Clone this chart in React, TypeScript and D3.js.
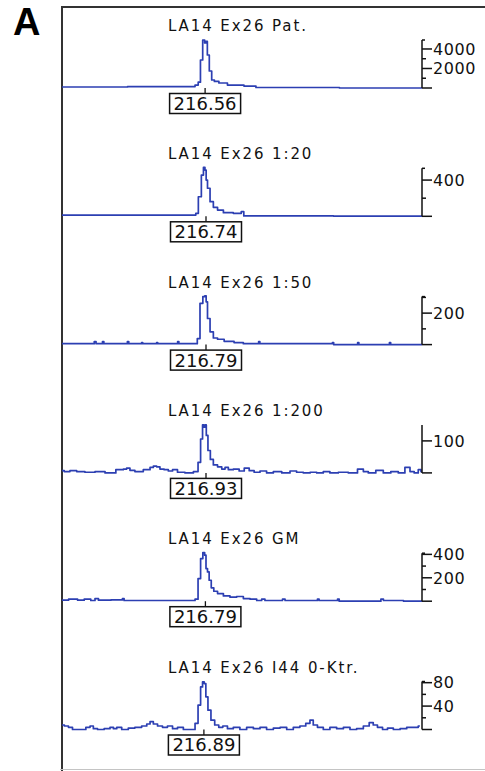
import React from 'react';
import * as d3 from 'd3';

// sample titles, peak size calls and right-axis settings, top to bottom
const titles = ['LA14 Ex26 Pat.', 'LA14 Ex26 1:20', 'LA14 Ex26 1:50', 'LA14 Ex26 1:200', 'LA14 Ex26 GM', 'LA14 Ex26 I44 0-Ktr.'];
const peakSizes = ['216.56', '216.74', '216.79', '216.93', '216.79', '216.89'];
const peakScan = [47.7, 48, 48, 48, 47.8, 47.3];
const yMaxes = [4920, 530, 305, 150, 410, 82];
const majorTicks = [[2000, 4000], [400], [200], [100], [200, 400], [40, 80]];
const minorTicks = [[1000, 3000], [200], [100, 300], [], [100, 300], [20, 60]];
const topCaps = [true, true, true, false, true, true];

// traces as [scan, signal] points
const trace1 = [[0, 100], [43.7, 150], [45, 300], [45.8, 600], [46.5, 2870], [47.3, 4920], [47.8, 4610], [48.2, 4770], [48.7, 3380], [49.5, 1740], [50.3, 820], [51.3, 670], [53.3, 510], [57, 300], [64.3, 200], [65, 50], [120, 0]];
const trace2 = [[0, 14], [44.3, 14], [44.9, 33], [46, 216], [46.9, 455], [47.4, 540], [47.9, 510], [48.2, 400], [48.8, 310], [49.9, 161], [51, 99], [52.7, 69], [54.9, 40], [59.3, 33], [60.2, 51], [61, 4], [120, 3]];
const trace3 = [[0, 6], [10.5, 6], [11, 19], [11.7, 6], [13.3, 6], [13.7, 19], [14.2, 6], [21.6, 6], [22, 19], [22.5, 6], [26.4, 6], [26.7, 13], [27.1, 6], [31.4, 6], [31.7, 13], [32.1, 6], [38.4, 6], [38.7, 19], [39.2, 6], [44.8, 6], [45.4, 38], [46.6, 262], [47.3, 305], [47.9, 310], [48.2, 272], [48.8, 166], [49.9, 81], [51, 42], [52.7, 34], [55.4, 21], [59.3, 13], [61.6, 6], [65.4, 6], [65.7, 19], [66.2, 6], [90, 6], [90.3, 13], [90.8, 0], [98.4, 0], [98.7, 13], [99.2, 0], [109, 0], [109.3, 13], [109.8, 0], [120, 0]];
const trace4 = [[0, 7], [1.5, 4], [3.8, 7], [6, 4], [9.3, 2], [12.7, 4], [16, 0], [19.9, 10], [21, 12], [22.1, 15], [23.2, 8], [25.4, 4], [28.8, 10], [29.9, 17], [31, 21], [32.1, 19], [33.2, 12], [34.9, 10], [36, 6], [37.7, 10], [39.3, 2], [42.7, 0], [44.9, 4], [45.8, 33], [46.6, 106], [47.1, 150], [47.4, 143], [47.9, 150], [48.3, 117], [49, 70], [49.9, 42], [51, 25], [52.7, 19], [53.8, 12], [54.9, 17], [56, 10], [58.2, 12], [59.9, 6], [61.6, 15], [63.2, 7], [64.9, 2], [67.1, 6], [69.3, 0], [71.6, 4], [74.9, 0], [77.1, 6], [79.3, 2], [81.6, 0], [83.8, 2], [86, 0], [88.2, 4], [90.4, 0], [93.8, 2], [97.1, 0], [99.9, 12], [101, 4], [103.2, 0], [106, 8], [108.2, 0], [111, 4], [113.2, 0], [115.4, 17], [116.6, 4], [118.2, 0], [119.3, 10], [120, 4]];
const trace5 = [[0, 9], [4.4, 17], [6, 9], [8.8, 17], [10.4, 6], [11.6, 22], [12.7, 9], [19.9, 11], [20.4, 22], [21, 6], [43.8, 6], [44.9, 17], [45.8, 193], [46.6, 364], [47.3, 415], [47.8, 393], [48.2, 279], [48.8, 250], [49.3, 179], [50.2, 114], [51, 85], [52.7, 65], [54.9, 45], [57.1, 34], [59.3, 40], [61.6, 22], [63.8, 17], [66, 6], [67.1, 17], [68.2, 6], [73.2, 6], [73.8, 17], [74.9, 6], [84.9, 6], [85.4, 17], [86, 6], [91.6, 6], [92.1, 17], [92.7, 0], [106, 0], [106.6, 17], [107.7, 6], [120, 0]];
const trace6 = [[0, 7.7], [1.6, 6], [2.7, 3.7], [4.3, 0], [7.1, 0], [8.8, 3.7], [9.9, 6], [11, 1.4], [12.7, 0], [15.4, 1.4], [16.6, 3.7], [17.7, 1.4], [18.8, 3.7], [21, 0], [23.2, 2.5], [25.4, 3.7], [27.7, 6], [28.8, 9.4], [29.9, 13.3], [31, 9.4], [32.7, 6], [34.3, 3.7], [36, 6], [37.7, 1.4], [39.3, 3.7], [41.6, 0], [43.8, 0], [44.9, 10.5], [45.8, 41.7], [46.6, 72.8], [47.1, 81.3], [47.7, 78.5], [48.2, 55.8], [49.1, 33], [50.2, 16], [51.6, 7.7], [52.9, 3.7], [54.3, 6], [56, 1.4], [58.2, 3.7], [60.4, 0], [62.7, 3.7], [64.9, 1.4], [67.1, 3.7], [69.3, 0], [71.6, 2.5], [73.8, 3.7], [76, 0], [78.2, 3.7], [80.4, 6], [82.1, 10.5], [83.2, 16], [84.3, 7.7], [86, 3.7], [88.2, 0], [90.4, 3.7], [92.7, 1.4], [94.9, 3.7], [97.1, 0], [99.3, 1.4], [101.6, 6], [103.2, 11.6], [104.3, 7.7], [106, 3.7], [107.7, 0], [109.3, 2.5], [111.6, 0], [113.8, 1.4], [116, 3.7], [118.2, 3.7], [119.3, 6]];
const traces = [trace1, trace2, trace3, trace4, trace5, trace6];

const W = 485;
const H = 771;
const firstBase = 88;
const panelStep = 128.3;
const axisHeight = 48;
const blue = '#2c3fb2';
const font = '"DejaVu Sans", Verdana, sans-serif';

const x = d3.scaleLinear().domain([0, 120]).range([62, 422]);

const Panel = ({ i }: { i: number }) => {
  const base = firstBase + i * panelStep;
  const y = d3.scaleLinear().domain([0, yMaxes[i]]).range([base, base - axisHeight]);
  const line = d3.line<number[]>().x((d) => x(d[0])).y((d) => y(d[1])).curve(d3.curveStep);
  const ax = x(120);
  const cx = x(peakScan[i]);
  const boxTop = base + 5.5;

  return (
    <g>
      <text x={168} y={base - 57} fontFamily={font} fontSize={15} letterSpacing={1.9} fill="#111">
        {titles[i]}
      </text>
      <path d={line(traces[i]) || ''} fill="none" stroke={blue} strokeWidth={1.7} strokeLinejoin="round" />
      {/* right signal axis */}
      <g stroke="#111" strokeWidth={1.5}>
        <line x1={ax} x2={ax} y1={y(0)} y2={y(yMaxes[i])} />
        <line x1={ax} x2={ax + 10} y1={y(0)} y2={y(0)} />
        {topCaps[i] && <line x1={ax} x2={ax + 3} y1={y(yMaxes[i])} y2={y(yMaxes[i])} />}
        {majorTicks[i].map((t) => (
          <line key={t} x1={ax} x2={ax + 10} y1={y(t)} y2={y(t)} />
        ))}
        {minorTicks[i].map((t) => (
          <line key={t} x1={ax} x2={ax + 4} y1={y(t)} y2={y(t)} />
        ))}
      </g>
      {majorTicks[i].map((t) => (
        <text key={t} x={ax + 11} y={y(t)} dy="0.36em" fontFamily={font} fontSize={16} letterSpacing={0.6} fill="#111">
          {t}
        </text>
      ))}
      {/* peak size call */}
      <line x1={cx} x2={cx} y1={base} y2={boxTop} stroke="#111" strokeWidth={1.3} />
      <rect x={cx - 35.5} y={boxTop} width={71} height={20} fill="#fff" stroke="#111" strokeWidth={1.5} />
      <text x={cx} y={boxTop + 10} dy="0.36em" textAnchor="middle" fontFamily={font} fontSize={18} fill="#111">
        {peakSizes[i]}
      </text>
    </g>
  );
};

export default function App() {
  return (
    <svg width={W} height={H} style={{ position: 'absolute', left: 0, top: 0, background: '#fff' }}>
      <rect width={W} height={H} fill="#fff" />
      <text x={13} y={35} fontFamily='"Liberation Sans", Arial, sans-serif' fontWeight="bold" fontSize={38} fill="#000">
        A
      </text>
      {/* frame */}
      <line x1={61} x2={W} y1={7} y2={7} stroke="#333" strokeWidth={2} />
      <line x1={62} x2={62} y1={6} y2={H} stroke="#333" strokeWidth={2} />
      <line x1={60} x2={W} y1={769.5} y2={769.5} stroke="#c4c4c4" strokeWidth={1} />
      {titles.map((_, i) => (
        <Panel key={i} i={i} />
      ))}
    </svg>
  );
}
